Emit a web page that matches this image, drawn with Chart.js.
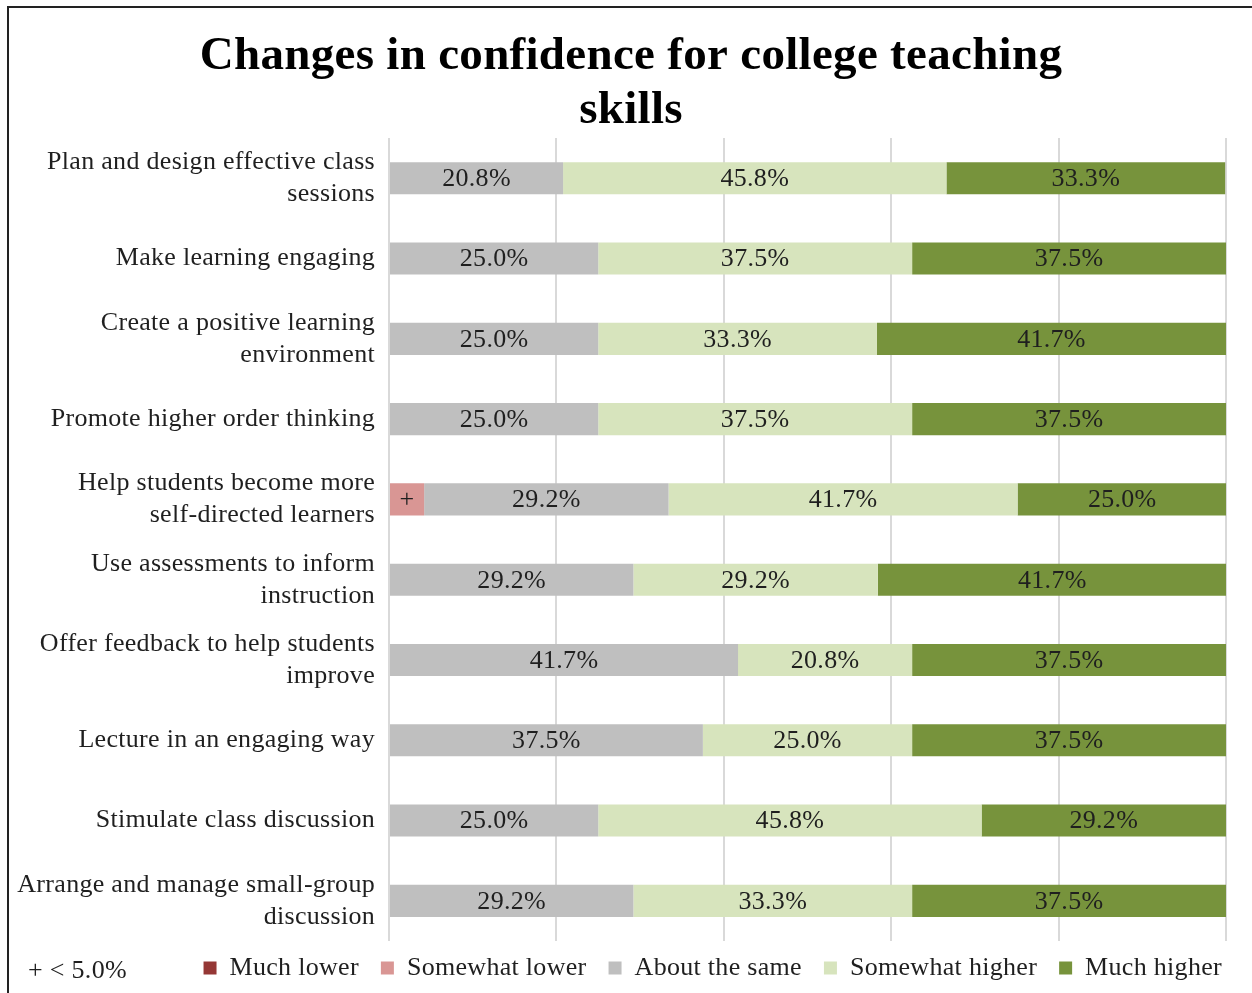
<!DOCTYPE html>
<html lang="en">
  <head>
    <meta charset="UTF-8" />
    <script src="https://cdn.jsdelivr.net/npm/chart.js"></script>
    <title>Changes in confidence for college teaching skills</title>
    <style>
      body { margin: 0; background: #fff; overflow: hidden; }
      #frame { position: absolute; left: 7px; top: 6px; width: 1300px; height: 1100px; border: 2px solid #222; }
      #wrap { position: absolute; left: 0; top: 0; width: 1252px; height: 993px; }
    </style>
  </head>
  <body>
    <div id="frame"></div>
    <div id="wrap"><canvas id="skills"></canvas></div>
    <script>
      const skills = [
        ['Plan and design effective class', 'sessions'],
        'Make learning engaging',
        ['Create a positive learning', 'environment'],
        'Promote higher order thinking',
        ['Help students become more', 'self-directed learners'],
        ['Use assessments to inform', 'instruction'],
        ['Offer feedback to help students', 'improve'],
        'Lecture in an engaging way',
        'Stimulate class discussion',
        ['Arrange and manage small-group', 'discussion']
      ];
      const muchLower      = [0, 0, 0, 0, 0, 0, 0, 0, 0, 0];
      const somewhatLower  = [0, 0, 0, 0, 4.2, 0, 0, 0, 0, 0];
      const aboutSame      = [20.8, 25.0, 25.0, 25.0, 29.2, 29.2, 41.7, 37.5, 25.0, 29.2];
      const somewhatHigher = [45.8, 37.5, 33.3, 37.5, 41.7, 29.2, 20.8, 25.0, 45.8, 33.3];
      const muchHigher     = [33.3, 37.5, 41.7, 37.5, 25.0, 41.7, 37.5, 37.5, 29.2, 37.5];

      const serif = "'Liberation Serif', 'Times New Roman', serif";
      const textColor = '#1f1f1f';
      const spacing = '0.3px';

      // slightly wider text, title centred on the frame, legend pushed right
      // and kept short even though its item padding is wide
      const tweaks = {
        id: 'tweaks',
        beforeUpdate(chart) { chart.ctx.letterSpacing = spacing; },
        beforeLayout(chart) {
          chart.ctx.letterSpacing = spacing;
          const lg = chart.legend;
          if (lg && !lg._short) {
            const fit = lg.fit.bind(lg);
            lg.fit = function () { fit(); this.height -= 6; };
            lg._short = true;
          }
        },
        afterLayout(chart) {
          chart.titleBlock.left += 18;
          chart.titleBlock.right += 18;
          chart.legend.left += 18;
          chart.legend.right += 18;
          chart.legend.top -= 8;
          chart.legend.bottom -= 8;
        },
        beforeDraw(chart) { chart.ctx.letterSpacing = spacing; }
      };

      // draws the value inside each segment, '+' for the small ones
      const segmentLabels = {
        id: 'segmentLabels',
        afterDatasetsDraw(chart) {
          const ctx = chart.ctx;
          ctx.save();
          ctx.font = '26px ' + serif;
          ctx.fillStyle = textColor;
          ctx.textAlign = 'center';
          ctx.textBaseline = 'middle';
          chart.data.datasets.forEach((ds, i) => {
            chart.getDatasetMeta(i).data.forEach((bar, j) => {
              const v = ds.data[j];
              if (!v) return;
              const txt = v < 5 ? '+' : v.toFixed(1) + '%';
              const x = (bar.x + bar.base) / 2;
              ctx.fillText(txt, x, bar.y + 1);
            });
          });
          ctx.restore();
        }
      };

      const footNote = {
        id: 'footNote',
        afterDraw(chart) {
          const ctx = chart.ctx;
          ctx.save();
          ctx.font = '26px ' + serif;
          ctx.fillStyle = textColor;
          ctx.textBaseline = 'middle';
          ctx.fillText('+ < 5.0%', 28, 971);
          ctx.restore();
        }
      };

      new Chart(document.getElementById('skills'), {
        type: 'bar',
        data: {
          labels: skills,
          datasets: [
            { label: 'Much lower', data: muchLower, backgroundColor: '#953735' },
            { label: 'Somewhat lower', data: somewhatLower, backgroundColor: '#D99694' },
            { label: 'About the same', data: aboutSame, backgroundColor: '#BFBFBF' },
            { label: 'Somewhat higher', data: somewhatHigher, backgroundColor: '#D7E4BD' },
            { label: 'Much higher', data: muchHigher, backgroundColor: '#77933C' }
          ]
        },
        plugins: [tweaks, segmentLabels, footNote],
        options: {
          indexAxis: 'y',
          responsive: true,
          maintainAspectRatio: false,
          animation: false,
          categoryPercentage: 1,
          barPercentage: 0.4,
          layout: { padding: { left: 0, right: 26, top: 0, bottom: 0 } },
          plugins: {
            tooltip: { enabled: false },
            title: {
              display: true,
              text: ['Changes in confidence for college teaching', 'skills'],
              color: '#000',
              font: { family: serif, size: 47, weight: 'bold', lineHeight: 1.15 },
              padding: { top: 30, bottom: 0 }
            },
            legend: {
              position: 'bottom',
              align: 'end',
              labels: {
                color: textColor,
                font: { family: serif, size: 26 },
                boxWidth: 13,
                boxHeight: 13,
                padding: 22
              }
            }
          },
          scales: {
            x: {
              stacked: true,
              min: 0,
              max: 100,
              ticks: { display: false, stepSize: 20 },
              grid: { color: '#D9D9D9', lineWidth: 2, drawTicks: false },
              border: { display: false }
            },
            y: {
              stacked: true,
              afterFit(scale) { scale.width = 389; },
              ticks: {
                color: textColor,
                font: { family: serif, size: 26, lineHeight: 1.23 },
                padding: 14
              },
              grid: { display: false, drawTicks: false },
              border: { display: false }
            }
          }
        }
      });
    </script>
  </body>
</html>
